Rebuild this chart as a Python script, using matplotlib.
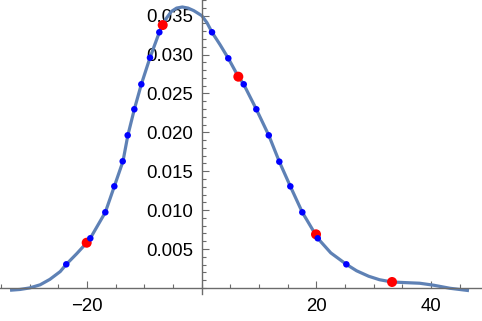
import matplotlib
matplotlib.use("Agg")
import matplotlib.pyplot as plt
from matplotlib.ticker import MultipleLocator, FixedLocator, FuncFormatter

# density curve
curve_x = [-33.45, -31.7, -30.0, -28.2, -26.5, -24.7, -23.64, -21.82, -20.08, -19.45,
           -16.83, -15.26, -13.75, -12.9, -11.77, -10.55, -9.04, -7.41, -6.82, -6.1, -5.3, -4.4,
           -3.4, -2.4, -1.4, -0.6, 0.0, 0.9, 1.78, 3.2, 4.62, 6.37, 7.31, 9.51, 11.68, 13.52, 15.44, 17.53,
           20.22, 22.5, 25.21, 27.0, 29.1, 31.0, 33.2, 35.5, 38.0, 40.4, 43.3, 46.6]
curve_y = [-0.0003, -0.0002, 0.0000, 0.0004, 0.0011, 0.0021, 0.00303, 0.0044, 0.0058, 0.00638,
           0.00972, 0.01306, 0.01628, 0.01962, 0.02297, 0.02618, 0.0296, 0.03287, 0.0338, 0.03475, 0.03555, 0.03598,
           0.03612, 0.03598, 0.03565, 0.03528, 0.0350, 0.0341, 0.03287, 0.03125, 0.02952, 0.02716, 0.02618, 0.02297, 0.01962, 0.01623, 0.01306, 0.00972,
           0.00638, 0.0045, 0.00303, 0.0022, 0.0015, 0.00105, 0.00076, 0.00068, 0.0006, 0.00035, -0.00005, -0.00035]

# blue points
blue_x = [-23.64, -19.45, -16.83, -15.26, -13.80, -12.93, -11.77, -10.55, -9.04, -7.41,
          1.78, 4.62, 7.31, 9.51, 11.68, 13.52, 15.44, 17.53, 20.22, 25.21]
blue_y = [0.00303, 0.00638, 0.00972, 0.01306, 0.01628, 0.01962, 0.02297, 0.02618, 0.0296, 0.03287,
          0.03287, 0.02952, 0.02618, 0.02297, 0.01962, 0.01623, 0.01306, 0.00972, 0.00638, 0.00303]

# red points
red_x = [-20.08, -6.82, 6.37, 19.92, 33.18]
red_y = [0.00581, 0.0338, 0.02716, 0.00689, 0.00076]

x_major = [-20, 20, 40]
y_major = [0.005, 0.010, 0.015, 0.020, 0.025, 0.030, 0.035]

fig = plt.figure(figsize=(4.82, 3.21), dpi=100)
ax = fig.add_axes([0, 27 / 321, 1, 294 / 321])
ax.set_xlim(-35.20, 48.87)
ax.set_ylim(-0.000784, 0.03702)

axcol = "#6b6b6b"
for s in ["top", "right"]:
    ax.spines[s].set_visible(False)
ax.spines["left"].set_position(("data", 0))
ax.spines["bottom"].set_position(("data", 0))
for s in ["left", "bottom"]:
    ax.spines[s].set_color(axcol)
    ax.spines[s].set_linewidth(1.0)

ax.plot(curve_x, curve_y, color="#5E81B5", lw=2.3, solid_capstyle="butt",
        solid_joinstyle="round", zorder=2)
ax.scatter(red_x, red_y, s=52, color="red", edgecolors="none", zorder=3)
ax.scatter(blue_x, blue_y, s=22, color="blue", edgecolors="none", zorder=4)

ax.xaxis.set_major_locator(FixedLocator(x_major))
ax.xaxis.set_minor_locator(MultipleLocator(5))
ax.yaxis.set_major_locator(FixedLocator(y_major))
ax.yaxis.set_minor_locator(MultipleLocator(0.001))
ax.xaxis.set_major_formatter(FuncFormatter(lambda v, p: f"{v:.0f}".replace("-", "\u2212")))
ax.yaxis.set_major_formatter(FuncFormatter(lambda v, p: f"{v:.3f}"))

for lab in ax.get_xticklabels() + ax.get_yticklabels():
    lab.set_fontfamily("Liberation Sans")
    lab.set_fontsize(13.4)
ax.tick_params(which="both", direction="in", color=axcol, width=0.8)
ax.tick_params(which="major", length=5)
ax.tick_params(which="minor", length=3)
ax.tick_params(axis="x", which="major", pad=7)
ax.tick_params(axis="y", which="major", pad=6)

fig.savefig("out.png", dpi=100)
